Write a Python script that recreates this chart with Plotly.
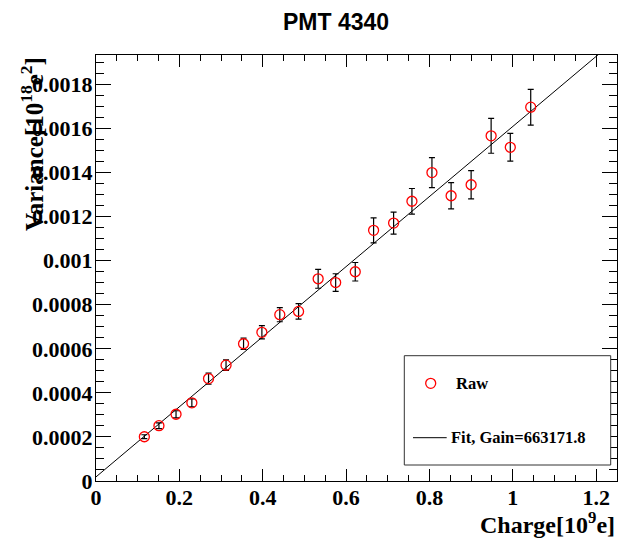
import plotly.graph_objects as go

# ---- data ----
charge = [0.116, 0.151, 0.192, 0.230, 0.270, 0.312, 0.354, 0.398, 0.441, 0.486,
          0.533, 0.575, 0.622, 0.666, 0.714, 0.758, 0.806, 0.852, 0.900, 0.948,
          0.994, 1.043]
variance = [0.000201, 0.000251, 0.000303, 0.000355, 0.000465, 0.000526, 0.000623,
            0.000675, 0.000755, 0.000770, 0.000918, 0.000901, 0.000950, 0.001138,
            0.001171, 0.001270, 0.001400, 0.001295, 0.001345, 0.001567, 0.001515,
            0.001697]
variance_err = [0.000009, 0.000013, 0.000016, 0.000018, 0.000025, 0.000024,
                0.000026, 0.000030, 0.000032, 0.000035, 0.000043, 0.000040,
                0.000042, 0.000057, 0.000050, 0.000058, 0.000068, 0.000060,
                0.000064, 0.000079, 0.000063, 0.000081]

fit_intercept = 0.0000186
fit_slope = 0.001591
fit_range = [0.0, 1.25]

x_tickvals = [0, 0.2, 0.4, 0.6, 0.8, 1.0, 1.2]
x_ticktext = ["0", "0.2", "0.4", "0.6", "0.8", "1", "1.2"]
y_tickvals = [0, 0.0002, 0.0004, 0.0006, 0.0008, 0.001, 0.0012, 0.0014, 0.0016, 0.0018]
y_ticktext = ["0", "0.0002", "0.0004", "0.0006", "0.0008", "0.001", "0.0012",
              "0.0014", "0.0016", "0.0018"]

title_text = "PMT 4340"
x_title = "Charge[10<sup>9</sup>e]"
y_title = "Variance[10<sup>18</sup>e<sup>2</sup>]"
legend_raw = "Raw"
legend_fit = "Fit, Gain=663171.8"

fit_y = [fit_intercept + fit_slope * x for x in fit_range]

SERIF = "Liberation Serif, Times New Roman, serif"

fig = go.Figure()
fig.add_trace(go.Scatter(
    x=fit_range, y=fit_y, mode="lines",
    line=dict(color="black", width=1), name=legend_fit, showlegend=False,
))
fig.add_trace(go.Scatter(
    x=charge, y=variance, mode="markers",
    marker=dict(symbol="circle-open", color="red", size=10, line=dict(width=1.3, color="red")),
    error_y=dict(type="data", array=variance_err, visible=True, color="black",
                 thickness=1.2, width=3),
    name=legend_raw, showlegend=False,
))

W, H = 620, 538
L, R, T, B = 96, 3, 55, 57
pw = W - L - R
ph = H - T - B

def px(xp):
    return (xp - L) / pw

def py(yp):
    return (H - B - yp) / ph

axis_common = dict(
    showgrid=False, zeroline=False, showline=True, linecolor="black", linewidth=1,
    mirror="allticks", ticks="inside", tickcolor="black", tickwidth=1,
    tickfont=dict(family=SERIF, size=22, color="black", weight="bold"),
)

fig.update_layout(
    width=W, height=H,
    margin=dict(l=L, r=R, t=T, b=B),
    paper_bgcolor="white", plot_bgcolor="white",
    showlegend=False,
    title=dict(text=title_text, x=336 / W, xanchor="center", y=1 - 22 / H, yanchor="middle",
               font=dict(family="Liberation Sans, Arial", size=23,
                         color="black", weight="bold")),
    xaxis=dict(range=[0, 1.25], tickmode="array", tickvals=x_tickvals, ticktext=x_ticktext,
               ticklen=12, ticklabelstandoff=-3,
               minor=dict(tickmode="linear", tick0=0, dtick=0.05, ticks="inside", ticklen=6,
                          tickcolor="black"),
               **axis_common),
    yaxis=dict(range=[0, 0.001934], tickmode="array", tickvals=y_tickvals, ticktext=y_ticktext,
               ticklen=15, ticklabelstandoff=-2,
               minor=dict(tickmode="linear", tick0=0, dtick=0.00005, ticks="inside", ticklen=8,
                          tickcolor="black"),
               **axis_common),
)

# axis titles (ROOT style: right / top aligned)
fig.add_annotation(text=x_title, xref="paper", yref="paper", x=1, y=0,
                   xanchor="right", yanchor="middle", yshift=-(523 - (H - B)),
                   showarrow=False,
                   font=dict(family=SERIF, size=24, color="black", weight="bold"))
fig.add_annotation(text=y_title, xref="paper", yref="paper", x=0, y=1,
                   xanchor="center", yanchor="top", xshift=32 - L, textangle=-90,
                   showarrow=False,
                   font=dict(family=SERIF, size=25, color="black", weight="bold"))

# legend box (drawn manually to match the ROOT TLegend placement)
fig.add_shape(type="rect", xref="paper", yref="paper",
              x0=px(404.3), x1=px(610.7), y0=py(465), y1=py(355.7),
              line=dict(color="#333333", width=1), fillcolor="white", layer="above")
fig.add_shape(type="circle", xref="paper", yref="paper", xsizemode="pixel", ysizemode="pixel",
              xanchor=px(430.7), yanchor=py(383.3), x0=-5, x1=5, y0=-5, y1=5,
              line=dict(color="red", width=1.3), layer="above")
fig.add_shape(type="line", xref="paper", yref="paper",
              x0=px(413), x1=px(446.7), y0=py(437.7), y1=py(437.7),
              line=dict(color="black", width=1), layer="above")
fig.add_annotation(text=legend_raw, xref="paper", yref="paper", x=px(454), y=py(383.3),
                   xanchor="left", yanchor="middle", showarrow=False,
                   font=dict(family=SERIF, size=16.5, color="black", weight="bold"))
fig.add_annotation(text=legend_fit, xref="paper", yref="paper", x=px(449), y=py(437.7),
                   xanchor="left", yanchor="middle", showarrow=False,
                   font=dict(family=SERIF, size=16.5, color="black", weight="bold"))

fig.write_html("out.html", config={"displayModeBar": False},
               post_script="document.body.style.margin='0';document.body.style.overflow='hidden';")
